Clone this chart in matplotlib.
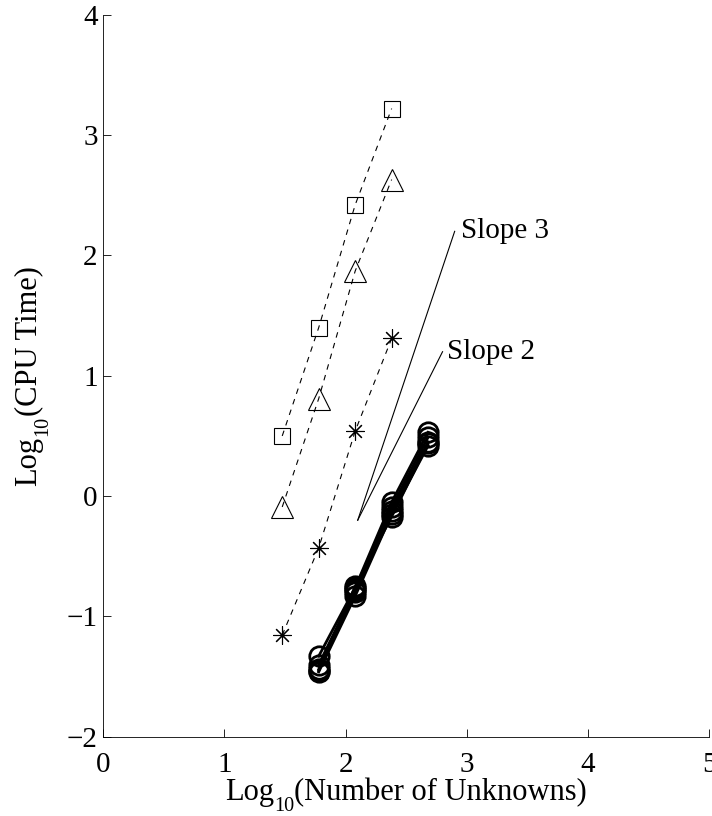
import matplotlib
matplotlib.use("Agg")
import matplotlib.pyplot as plt
from matplotlib.transforms import IdentityTransform

plt.rcParams["font.family"] = ["Liberation Serif", "DejaVu Serif"]

# log10 of problem sizes
log_n = [1.477, 1.778, 2.079, 2.380, 2.681]

# dashed comparison methods
squares = [0.50, 1.40, 2.42, 3.22]
triangles = [-0.09, 0.81, 1.87, 2.63]
stars = [-1.155, -0.43, 0.54, 1.31]

# solid (circle) runs, starting at log_n[1]
circle_runs = [
    [-1.33, -0.76, -0.05, 0.53],
    [-1.40, -0.78, -0.09, 0.49],
    [-1.44, -0.80, -0.12, 0.45],
    [-1.46, -0.83, -0.15, 0.42],
    [-1.45, -0.75, -0.17, 0.44],
]

# reference slope lines
slope_origin = (2.1, -0.2)
slope3_end = (2.9, 2.2)
slope2_end = (2.8, 1.2)


def pieces_label(fig, cx, cy, parts, vertical=False):
    # MATLAB-style label with a big, low subscript; cx, cy in pixels
    r = fig.canvas.get_renderer()
    widths = []
    for s, size, drop in parts:
        t = fig.text(0, 0, s, fontsize=size)
        widths.append(t.get_window_extent(r).width)
        t.remove()
    pos = -sum(widths) / 2
    for (s, size, drop), w in zip(parts, widths):
        if vertical:
            x, y = cx + drop, cy + pos
        else:
            x, y = cx + pos, cy - drop
        fig.text(x, y, s, fontsize=size, ha="left", va="baseline",
                 rotation=90 if vertical else 0, rotation_mode="anchor",
                 transform=IdentityTransform())
        pos += w


fig = plt.figure(figsize=(7.12, 8.16), dpi=100)
ax = fig.add_axes([0.145, 0.097, 0.851, 0.885])

dash = (0, (5, 5))
ax.plot(log_n[:4], squares, color="black", lw=0.8, linestyle=dash,
        marker="s", markersize=12, markerfacecolor="none", markeredgewidth=0.8)
ax.plot(log_n[:4], triangles, color="black", lw=0.8, linestyle=dash,
        marker="^", markersize=16, markerfacecolor="none", markeredgewidth=0.8)
ax.plot(log_n[:4], stars, color="black", lw=0.8, linestyle=dash,
        marker=(8, 2, 0), markersize=13, markeredgewidth=0.8)

for run in circle_runs:
    ax.plot(log_n[1:], run, color="black", lw=2.0, marker="o", markersize=14,
            markerfacecolor="none", markeredgewidth=2.0)

ax.plot([slope_origin[0], slope3_end[0]], [slope_origin[1], slope3_end[1]],
        color="black", lw=0.8)
ax.plot([slope_origin[0], slope2_end[0]], [slope_origin[1], slope2_end[1]],
        color="black", lw=0.8)
ax.text(slope3_end[0] + 0.05, slope3_end[1], "Slope 3", fontsize=21,
        ha="left", va="center")
ax.text(slope2_end[0] + 0.04, slope2_end[1], "Slope 2", fontsize=21,
        ha="left", va="center")

ax.set_xlim(0, 5)
ax.set_ylim(-2, 4)
ax.set_xticks([0, 1, 2, 3, 4, 5])
ax.set_yticks([-2, -1, 0, 1, 2, 3, 4])
ax.tick_params(direction="in", length=6, width=0.6, labelsize=21, pad=4)
ax.tick_params(axis="x", pad=11)
for side in ["top", "right"]:
    ax.spines[side].set_visible(False)
for side in ["left", "bottom"]:
    ax.spines[side].set_linewidth(0.6)

pieces_label(fig, 406, 16, [("Log", 22, 0), ("10", 14.5, 11),
                            ("(Number of Unknowns)", 22, 0)])
pieces_label(fig, 36, 440, [("Log", 22, 0), ("10", 14.5, 11),
                            ("(CPU Time)", 22, 0)], vertical=True)

fig.savefig("out.png", dpi=100)
